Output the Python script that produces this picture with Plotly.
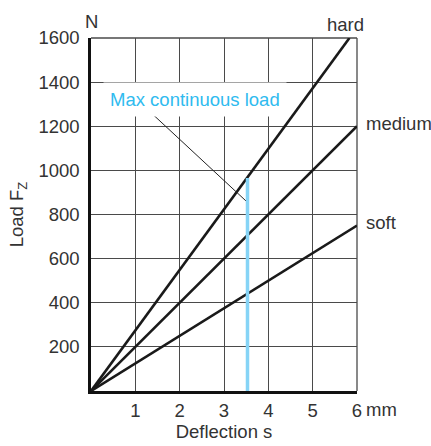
import plotly.graph_objects as go

# data
hard_x = [0, 5.83]
hard_y = [0, 1600]
medium_x = [0, 6]
medium_y = [0, 1200]
soft_x = [0, 6]
soft_y = [0, 750]
max_load_x = [3.53, 3.53]
max_load_y = [0, 965]
leader_x = [1.35, 3.53]
leader_y = [1262, 855]
x_ticks = [1, 2, 3, 4, 5, 6]
x_ticklabels = ["1", "2", "3", "4", "5", "6"]
y_ticks = [200, 400, 600, 800, 1000, 1200, 1400, 1600]
y_ticklabels = ["200", "400", "600", "800", "1000", "1200", "1400", "1600"]

FONT = "Liberation Sans, Arial, sans-serif"
TXT = "#333333"
BLUE_TXT = "#2fbbef"
GRID = "#4a4a4a"

fig = go.Figure()
line_style = dict(color="#1a1a1a", width=2.6)
for xs, ys in [(hard_x, hard_y), (medium_x, medium_y), (soft_x, soft_y)]:
    fig.add_trace(go.Scatter(x=xs, y=ys, mode="lines", line=line_style,
                             showlegend=False, hoverinfo="skip"))
fig.add_trace(go.Scatter(x=leader_x, y=leader_y, mode="lines",
                         line=dict(color="#222222", width=1),
                         showlegend=False, hoverinfo="skip"))
fig.add_trace(go.Scatter(x=max_load_x, y=max_load_y, mode="lines",
                         line=dict(color="#86d4f6", width=3.5),
                         showlegend=False, hoverinfo="skip"))

fig.update_layout(
    width=431, height=446,
    margin=dict(l=91, r=74, t=38, b=55),
    plot_bgcolor="white", paper_bgcolor="white",
    font=dict(family=FONT, size=18.5, color=TXT),
    xaxis=dict(range=[0, 6], tickvals=x_ticks, ticktext=x_ticklabels,
               showgrid=True, gridcolor=GRID, gridwidth=1.3,
               showline=True, linecolor="#111111", linewidth=2.5,
               zeroline=False, ticks="", ticklabelstandoff=1, automargin=False,
               title=dict(text="Deflection s", standoff=6,
                          font=dict(size=18.5, color=TXT))),
    yaxis=dict(range=[0, 1600], tickvals=y_ticks, ticktext=y_ticklabels,
               showgrid=True, gridcolor=GRID, gridwidth=1.3,
               showline=True, linecolor="#111111", linewidth=2.5,
               zeroline=False, ticks="", ticklabelstandoff=5, automargin=False,
               title=dict(text="Load F<sub>Z</sub>", standoff=10,
                          font=dict(size=18.5, color=TXT))),
    shapes=[
        dict(type="line", xref="paper", yref="paper", x0=0, x1=1, y0=1, y1=1,
             line=dict(color=GRID, width=1.3), layer="below"),
        dict(type="line", xref="paper", yref="paper", x0=1, x1=1, y0=0, y1=1,
             line=dict(color=GRID, width=1.3), layer="below"),
    ],
)

fig.add_annotation(x=0.27, y=1320, xref="x", yref="y", text="Max continuous load",
                   showarrow=False, xanchor="left", yanchor="middle",
                   font=dict(color=BLUE_TXT, size=18.5), bgcolor="white",
                   borderpad=6)
fig.add_annotation(x=0, y=1.0, xref="x", yref="paper", text="N", showarrow=False,
                   xanchor="center", yanchor="bottom", yshift=4)
fig.add_annotation(x=6, y=0, xref="x", yref="paper", text="mm", showarrow=False,
                   xanchor="left", yanchor="middle", xshift=7, yshift=-18)
fig.add_annotation(x=5.73, y=1.0, xref="x", yref="paper", text="hard", showarrow=False,
                   xanchor="center", yanchor="bottom", yshift=1)
fig.add_annotation(x=6, y=1211, xref="x", yref="y", text="medium", showarrow=False,
                   xanchor="left", yanchor="middle", xshift=7)
fig.add_annotation(x=6, y=766, xref="x", yref="y", text="soft", showarrow=False,
                   xanchor="left", yanchor="middle", xshift=7)

fig.write_html("out.html", config={"displayModeBar": False},
               post_script="document.body.style.margin='0';")
